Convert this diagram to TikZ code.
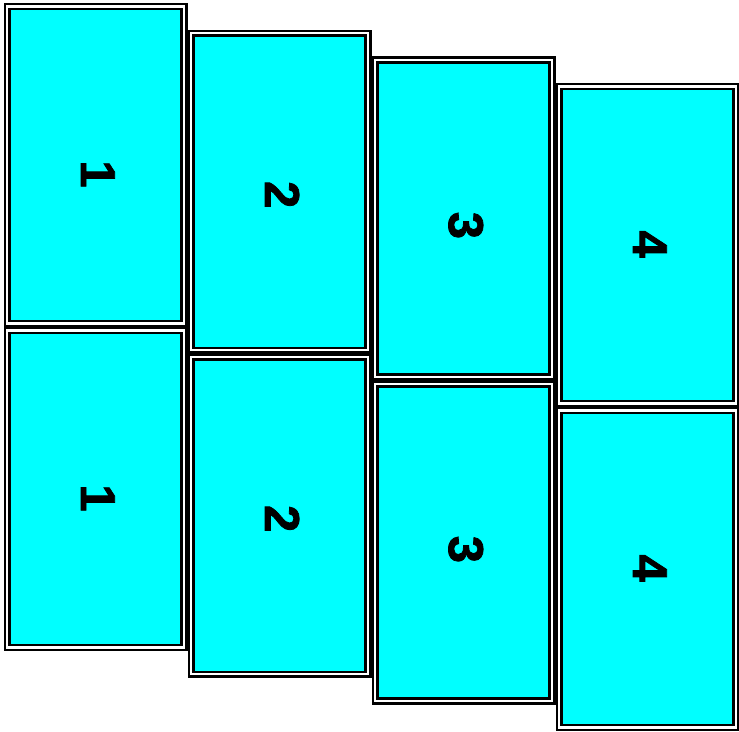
\documentclass[tikz,border=0pt]{standalone}
\usepackage{fontspec}
\setmainfont{Liberation Sans}
\newfontfamily\panelfont{Liberation Sans}[BoldFeatures={FakeBold=1.6}]
\usepackage{tikz}
\usetikzlibrary{positioning}
\definecolor{panelcyan}{RGB}{0,255,255}
% digit with its ink nudged along the panel (#1) and sat on the centre line
\newcommand{\pnum}[2]{\smash{\raisebox{-14.5pt}{\hspace*{#1}#2\hspace*{-#1}}}}

\begin{document}
\begin{tikzpicture}[
  x=1pt, y=1pt,
  panel/.style={draw=black, double=white, line width=2.4pt, double distance=2.4pt,
    fill=panelcyan, rotate=-90, minimum width=317pt, minimum height=176.8pt,
    inner sep=0pt, outer sep=0pt, font=\fontsize{49}{49}\panelfont\bfseries}
]
\useasboundingbox (0,0) rectangle (739,-731);

% Top row
\node[panel] (top1) at (95.5,-165) {\pnum{9pt}{1}};
\node[panel] (top2) at (279.5,-191.7) {\pnum{3pt}{2}};
\node[panel] (top3) at (463.5,-218.4) {\pnum{7pt}{3}};
\node[panel] (top4) at (647.5,-245.1) {\pnum{-1pt}{4}};

% Bottom row
\node[panel] (bot1) at (95.5,-489) {\pnum{9pt}{1}};
\node[panel] (bot2) at (279.5,-515.7) {\pnum{3pt}{2}};
\node[panel] (bot3) at (463.5,-542.4) {\pnum{7pt}{3}};
\node[panel] (bot4) at (647.5,-569.1) {\pnum{-1pt}{4}};

\end{tikzpicture}
\end{document}
